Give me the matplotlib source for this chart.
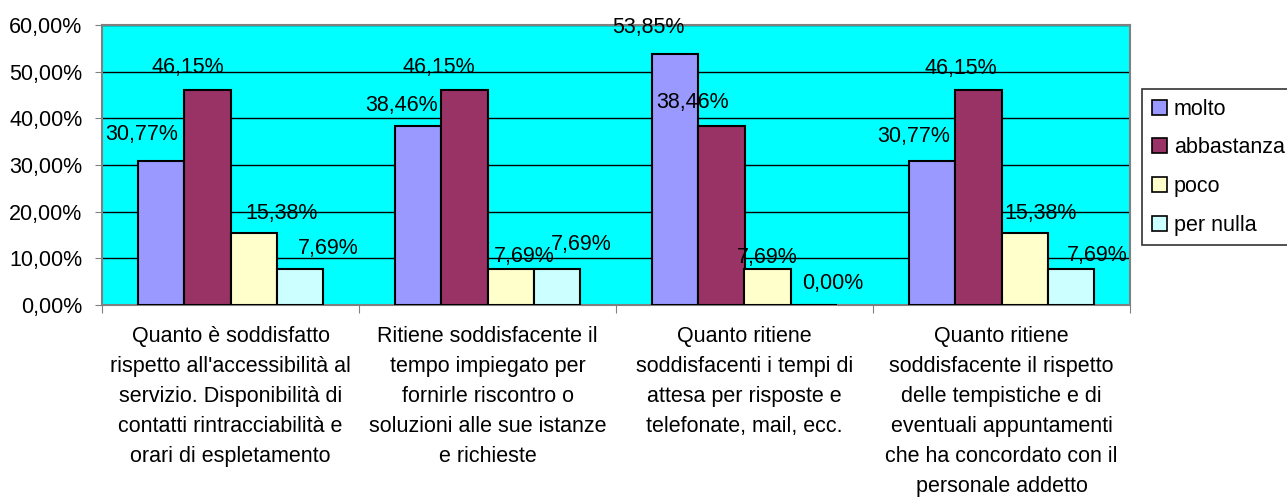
import numpy as np
import matplotlib.pyplot as plt
from matplotlib.patches import Patch

plt.rcParams['font.family'] = ['Liberation Sans', 'DejaVu Sans']

# Dati
categorie = [
    "Quanto è soddisfatto\nrispetto all'accessibilità al\nservizio. Disponibilità di\ncontatti rintracciabilità e\norari di espletamento",
    "Ritiene soddisfacente il\ntempo impiegato per\nfornirle riscontro o\nsoluzioni alle sue istanze\ne richieste",
    "Quanto ritiene\nsoddisfacenti i tempi di\nattesa per risposte e\ntelefonate, mail, ecc.",
    "Quanto ritiene\nsoddisfacente il rispetto\ndelle tempistiche e di\neventuali appuntamenti\nche ha concordato con il\npersonale addetto",
]
serie = ["molto", "abbastanza", "poco", "per nulla"]
molto = [30.77, 38.46, 53.85, 30.77]
abbastanza = [46.15, 46.15, 38.46, 46.15]
poco = [15.38, 7.69, 7.69, 15.38]
per_nulla = [7.69, 7.69, 0.00, 7.69]
valori = [molto, abbastanza, poco, per_nulla]
colori = ['#9999FF', '#993366', '#FFFFCC', '#CCFFFF']

# spostamento delle etichette (pixel) come nell'originale di Excel
dx = [[-19, -17, -27, -18],
      [-20, -26, -29, -18],
      [28, 14, 0, 16],
      [28, 24, 19, 26]]
dy = [[27, 20, 26, 25],
      [22, 22, 23, 21],
      [20, 13, 12, 20],
      [21, 25, 22, 14]]

fs = 15.5
fig = plt.figure(figsize=(12.87, 4.98), dpi=100)
ax = fig.add_axes([102/1287, 193/498, 1028/1287, 280/498])
ax.set_facecolor('#00FFFF')

x = np.arange(len(categorie))
w = 0.18
for i, (vals, col) in enumerate(zip(valori, colori)):
    pos = x + (i - 1.5) * w
    ax.bar(pos, vals, width=w, color=col, edgecolor='black', linewidth=1.5, zorder=3)
    for j, (p, v) in enumerate(zip(pos, vals)):
        ax.annotate(f"{v:.2f}%".replace('.', ','), (p, v), xytext=(dx[i][j], dy[i][j]),
                    textcoords='offset pixels', ha='center', va='center',
                    fontsize=fs, zorder=4)

ax.set_xlim(-0.5, 3.5)
ax.set_ylim(0, 60)
ax.set_yticks(np.arange(0, 61, 10))
ax.set_yticklabels([f"{t:.2f}%".replace('.', ',') for t in np.arange(0, 61, 10)], fontsize=fs)
ax.yaxis.grid(True, color='black', linewidth=1, zorder=1)
ax.set_axisbelow(True)
ax.tick_params(axis='y', length=5, color='gray', pad=9)

ax.set_xticks([-0.5, 0.5, 1.5, 2.5, 3.5])
ax.set_xticklabels([])
ax.tick_params(axis='x', length=6, color='gray', direction='out')
for xi, cat in zip(x, categorie):
    ax.text(xi, -4.5, cat, ha='center', va='top', fontsize=fs, linespacing=1.56,
            transform=ax.transData, clip_on=False)

for s in ax.spines.values():
    s.set_color('gray')
    s.set_linewidth(1.5)

handles = [Patch(facecolor=c, edgecolor='black', linewidth=1.2, label=l)
           for c, l in zip(colori, serie)]
leg = fig.legend(handles=handles, loc='upper left',
                 bbox_to_anchor=(1142/1287, 1 - 89/498), fontsize=fs,
                 frameon=True, fancybox=False, edgecolor='black',
                 handlelength=0.7, handleheight=0.7, handletextpad=0.33,
                 labelspacing=0.82, borderpad=0.45, borderaxespad=0)
leg.get_frame().set_linewidth(1.2)

fig.savefig('out.png', dpi=100)
